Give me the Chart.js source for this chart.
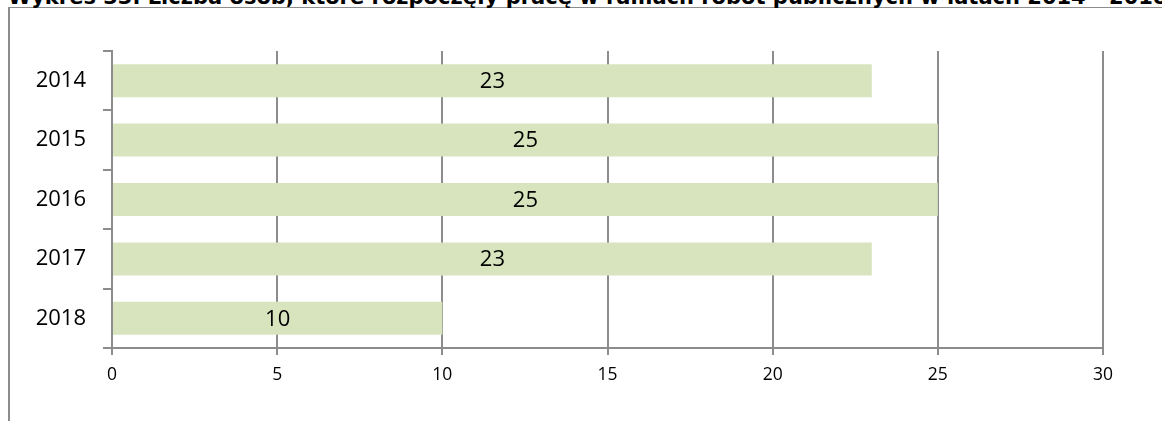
<!DOCTYPE html>
<html lang="pl">
<head>
<meta charset="utf-8">
<title>Wykres 33</title>
<script src="https://cdn.jsdelivr.net/npm/chart.js@4"></script>
<style>
  html,body{margin:0;padding:0;background:#fff;overflow:hidden}
  #wrap{position:relative;width:1162px;height:421px;overflow:hidden}
  #frame{position:absolute;left:8px;top:7px;width:1200px;height:500px;border-left:2px solid #8c8c8c;border-top:1px solid #8c8c8c}
  #title{position:absolute;left:8px;top:-15px;white-space:nowrap;font:bold 21px "DejaVu Sans",Verdana,sans-serif;line-height:25px;color:#000}
  #chart{position:absolute;left:0;top:0}
</style>
</head>
<body>
<div id="wrap">
  <div id="frame"></div>
  <div id="title">Wykres 33. Liczba osób, które rozpoczęły pracę w ramach robót publicznych w latach 2014 - 2018</div>
  <canvas id="chart" width="1162" height="421"></canvas>
</div>
<script>
// ── Data ──
const years=['2014','2015','2016','2017','2018'];
const persons=[23,25,25,23,10];
const xTicks=[0,5,10,15,20,25,30];

const GRID='#8c8c8c';
const BAR='#d7e4bd';

// ── Value labels centred in each bar ──
const barLabels={
  id:'barLabels',
  afterDatasetsDraw(chart){
    const ctx=chart.ctx;
    ctx.save();
    ctx.font='22px "Open Sans", sans-serif';
    ctx.fillStyle='#000';
    ctx.textAlign='center';
    ctx.textBaseline='middle';
    chart.getDatasetMeta(0).data.forEach((bar,i)=>{
      ctx.fillText(String(persons[i]),(bar.x+bar.base)/2,bar.y+1);
    });
    ctx.restore();
  }
};

new Chart(document.getElementById('chart'),{
  type:'bar',
  data:{labels:years,datasets:[{data:persons,backgroundColor:BAR,borderWidth:0,categoryPercentage:1,barPercentage:0.555}]},
  options:{
    indexAxis:'y',
    responsive:false,animation:false,
    layout:{padding:{top:51,right:59,left:0,bottom:0}},
    plugins:{legend:{display:false},tooltip:{enabled:false},title:{display:false}},
    scales:{
      x:{
        min:0,max:30,
        afterBuildTicks:s=>{s.ticks=xTicks.map(v=>({value:v}))},
        afterFit:s=>{s.height=73},
        grid:{color:GRID,lineWidth:2,tickLength:7},
        border:{color:GRID,width:2},
        ticks:{color:'#000',font:{family:'"Open Sans", sans-serif',size:17.5},padding:10}
      },
      y:{
        afterFit:s=>{s.width=112},
        grid:{drawOnChartArea:false,color:GRID,lineWidth:2,tickLength:9},
        border:{color:GRID,width:2},
        ticks:{color:'#000',font:{family:'"Open Sans", sans-serif',size:22},padding:17}
      }
    }
  },
  plugins:[barLabels]
});
</script>
</body>
</html>
